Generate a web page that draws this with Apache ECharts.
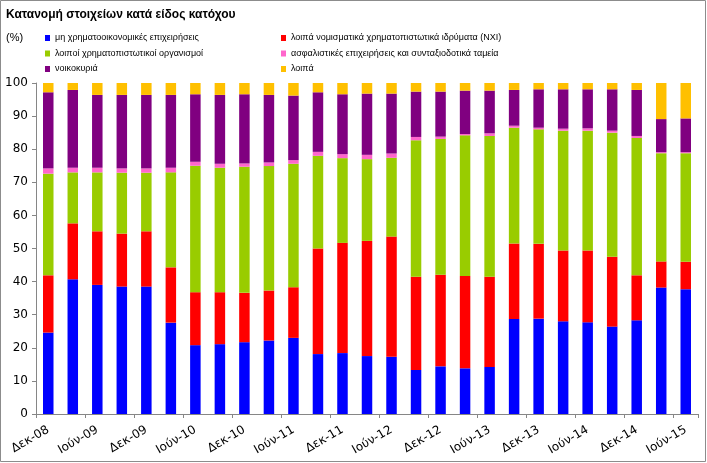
<!DOCTYPE html>
<html>
<head>
<meta charset="utf-8">
<script src="https://cdn.jsdelivr.net/npm/echarts@6/dist/echarts.min.js"></script>
<style>
html,body{margin:0;padding:0;background:#fff;}
#chart{width:707px;height:463px;}
</style>
</head>
<body>
<div id="chart"></div>
<script>
var categories = ['Δεκ-08','Μαρ-09','Ιούν-09','Σεπ-09','Δεκ-09','Μαρ-10','Ιούν-10','Σεπ-10','Δεκ-10','Μαρ-11','Ιούν-11','Σεπ-11','Δεκ-11','Μαρ-12','Ιούν-12','Σεπ-12','Δεκ-12','Μαρ-13','Ιούν-13','Σεπ-13','Δεκ-13','Μαρ-14','Ιούν-14','Σεπ-14','Δεκ-14','Μαρ-15','Ιούν-15'];
var seriesNames = ['μη χρηματοοικονομικές επιχειρήσεις','λοιπά νομισματικά χρηματοπιστωτικά ιδρύματα (ΝΧΙ)','λοιποί χρηματοπιστωτικοί οργανισμοί','ασφαλιστικές επιχειρήσεις και συνταξιοδοτικά ταμεία','νοικοκυριά','λοιπά'];
var nonFinancial = [24.6,40.7,39.0,38.5,38.5,27.6,20.8,21.1,21.7,22.2,23.0,18.1,18.4,17.5,17.3,13.3,14.4,13.8,14.2,28.7,28.8,28.0,27.7,26.4,28.3,38.2,37.7];
var otherMFI = [17.3,16.9,16.2,16.0,16.7,16.7,16.0,15.7,14.9,15.1,15.3,31.9,33.3,34.8,36.3,28.2,27.7,27.9,27.3,22.8,22.6,21.4,21.7,21.1,13.6,7.9,8.3];
var otherFinancial = [30.7,15.4,17.8,18.4,17.7,28.7,38.2,37.6,38.1,37.6,37.3,28.0,25.6,24.7,23.8,41.2,41.0,42.5,42.5,35.0,34.6,36.2,36.2,37.5,41.5,32.7,32.8];
var insurancePension = [1.6,1.4,1.4,1.3,1.3,1.4,1.2,1.2,1.0,1.1,1.1,1.2,1.2,1.3,1.3,1.0,0.7,0.4,0.8,0.6,0.5,0.6,0.7,0.6,0.6,0.3,0.3];
var households = [23.0,23.5,22.0,22.2,22.2,22.0,20.4,20.8,20.9,20.4,19.5,18.0,18.1,18.5,18.1,13.7,13.6,13.1,12.9,10.8,11.6,11.9,11.8,12.5,13.9,10.0,10.2];
var others = [2.8,2.1,3.6,3.6,3.6,3.6,3.4,3.6,3.4,3.6,3.8,2.8,3.4,3.2,3.2,2.6,2.6,2.3,2.3,2.1,1.9,1.9,1.9,1.9,2.1,10.9,10.7];
var yTicks = [0,10,20,30,40,50,60,70,80,90,100];

var colors = ['#0000FF','#FF0000','#99CC00','#FF66CC','#800080','#FFC000'];
var values = [nonFinancial, otherMFI, otherFinancial, insurancePension, households, others];

var chart = echarts.init(document.getElementById('chart'), null, {renderer:'canvas'});
var legendText = {fontFamily:'Liberation Sans, Arial, sans-serif', fontSize:9, lineHeight:12, color:'#000'};
var option = {
  animation:false,
  color: colors,
  title:[
    {text:'Κατανομή στοιχείων κατά είδος κατόχου', left:6, top:9, padding:0,
     textStyle:{fontFamily:'Liberation Sans, Arial, sans-serif', fontSize:12, fontWeight:'bold', color:'#000'}},
    {text:'(%)', left:6, top:32, padding:0,
     textStyle:{fontFamily:'Liberation Sans, Arial, sans-serif', fontSize:11, fontWeight:'normal', color:'#000'}}
  ],
  legend:[
    {left:45, top:32, orient:'vertical', padding:0, itemGap:3.5, itemWidth:5, itemHeight:6, icon:'rect',
     data:[seriesNames[0],seriesNames[2],seriesNames[4]], textStyle:legendText},
    {left:281, top:32, orient:'vertical', padding:0, itemGap:3.5, itemWidth:5, itemHeight:6, icon:'rect',
     data:[seriesNames[1],seriesNames[3],seriesNames[5]], textStyle:legendText}
  ],
  graphic:[{type:'rect', shape:{x:0.5,y:0.5,width:705,height:461}, style:{fill:'none', stroke:'#8c8c8c', lineWidth:1}, silent:true}],
  grid:{left:36, right:9, top:83, bottom:49},
  xAxis:{
    type:'category', data:categories,
    axisLine:{lineStyle:{color:'#868686'}},
    axisTick:{show:true, length:4, lineStyle:{color:'#868686'}},
    axisLabel:{interval:1, rotate:30, margin:15, fontFamily:'DejaVu Sans, sans-serif', fontSize:12, color:'#000'}
  },
  yAxis:{
    type:'value', min:yTicks[0], max:yTicks[yTicks.length-1], interval:10,
    splitLine:{show:false},
    axisLine:{show:true, lineStyle:{color:'#868686'}},
    axisTick:{show:true, length:4, lineStyle:{color:'#868686'}},
    axisLabel:{margin:8, fontFamily:'DejaVu Sans, sans-serif', fontSize:12, color:'#000'}
  },
  series: values.map(function(v,i){
    return {name:seriesNames[i], type:'bar', stack:'total', data:v, barWidth:10.5,
            itemStyle:{color:colors[i]}};
  })
};
chart.setOption(option);
</script>
</body>
</html>
